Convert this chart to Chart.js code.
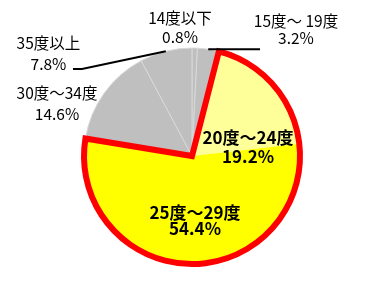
<!DOCTYPE html>
<html><head><meta charset="utf-8">
<script src="https://cdn.jsdelivr.net/npm/chart.js@4/dist/chart.umd.min.js"></script>
<style>html,body{margin:0;padding:0;background:#fff}</style>
</head><body>
<canvas id="c" width="368" height="283"></canvas>
<script>
// ---- data ----
const categories = ['14度以下', '15度～ 19度', '20度～24度', '25度～29度', '30度～34度', '35度以上'];
const values = [0.8, 3.2, 19.2, 54.4, 14.6, 7.8];
const valueLabels = ['0.8%', '3.2%', '19.2%', '54.4%', '14.6%', '7.8%'];
const highlighted = [2, 3];

// ---- styles / layout ----
const sliceColors = ['#BFBFBF', '#BFBFBF', '#FFFF99', '#FFFF00', '#BFBFBF', '#BFBFBF'];
const sliceBorders = [1, 1, 0, 0, 1, 1];
// label block centers, offsets from pie centre as fraction of radius
const labelPos = [[-0.111, -1.185], [0.963, -1.167], [0.519, -0.083], [0.028, 0.602], [-1.25, -0.486], [-1.329, -0.949]];
const labelGap = [19, 17, 19, 16, 21, 21];
const labelBold = [false, false, true, true, false, false];
// leader lines: points (fractions of radius) after the slice edge midpoint
const leaders = { 1: [[0.63, null]], 5: [[-1.019, -0.806], [-1.102, -0.806]] };

const FONT = '"Noto Sans CJK JP", "Noto Sans", sans-serif';

const outlinePlugin = {
  id: 'outline',
  afterDatasetsDraw(chart) {
    const ctx = chart.ctx;
    const arcs = chart.getDatasetMeta(0).data;
    const a = arcs[highlighted[0]], b = arcs[highlighted[highlighted.length - 1]];
    ctx.save();
    ctx.beginPath();
    ctx.moveTo(a.x, a.y);
    ctx.arc(a.x, a.y, a.outerRadius, a.startAngle, b.endAngle);
    ctx.closePath();
    ctx.lineWidth = 6;
    ctx.lineJoin = 'miter';
    ctx.strokeStyle = '#FF0000';
    ctx.stroke();
    ctx.restore();
  }
};

const labelPlugin = {
  id: 'labels',
  afterDraw(chart) {
    const ctx = chart.ctx;
    const arcs = chart.getDatasetMeta(0).data;
    ctx.save();
    arcs.forEach((arc, i) => {
      const R = arc.outerRadius, cx = arc.x, cy = arc.y;
      if (leaders[i]) {
        const mid = (arc.startAngle + arc.endAngle) / 2;
        let px = cx + R * Math.cos(mid), py = cy + R * Math.sin(mid);
        ctx.beginPath();
        ctx.moveTo(px, py);
        leaders[i].forEach(([fx, fy]) => {
          const nx = cx + fx * R;
          const ny = fy === null ? py : cy + fy * R;
          ctx.lineTo(nx, ny);
        });
        ctx.lineWidth = 2;
        ctx.strokeStyle = '#000';
        ctx.stroke();
      }
      const bx = cx + labelPos[i][0] * R, by = cy + labelPos[i][1] * R;
      ctx.fillStyle = '#000';
      ctx.textAlign = 'center';
      ctx.textBaseline = 'middle';
      ctx.font = (labelBold[i] ? 'bold 17px ' : '15.5px ') + FONT;
      ctx.fillText(categories[i], bx, by - labelGap[i] / 2);
      ctx.fillText(valueLabels[i], bx, by + labelGap[i] / 2);
    });
    ctx.restore();
  }
};

new Chart(document.getElementById('c'), {
  type: 'pie',
  data: {
    labels: categories,
    datasets: [{
      data: values,
      backgroundColor: sliceColors,
      borderColor: '#D8D8D8',
      borderWidth: sliceBorders
    }]
  },
  options: {
    responsive: false,
    animation: false,
    devicePixelRatio: 1,
    radius: 108,
    layout: { padding: { left: 84, right: 68, top: 48, bottom: 19 } },
    plugins: { legend: { display: false }, tooltip: { enabled: false } }
  },
  plugins: [outlinePlugin, labelPlugin]
});
</script>
</body></html>
